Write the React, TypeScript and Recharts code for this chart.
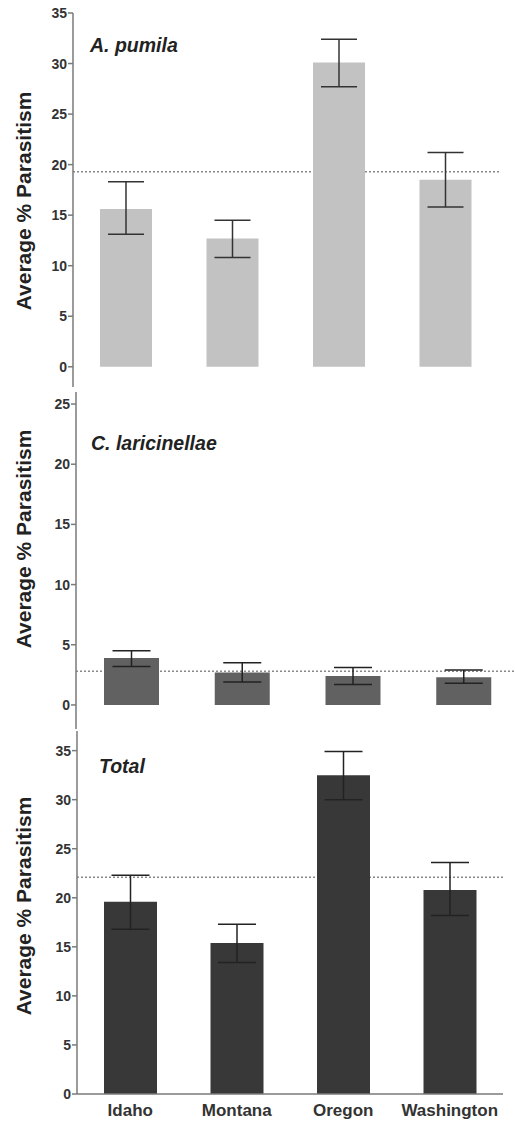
import { BarChart, Bar, XAxis, YAxis, ErrorBar, ReferenceLine } from 'recharts'

const states = ['Idaho', 'Montana', 'Oregon', 'Washington']

// A. pumila
const pumilaMean = [15.6, 12.7, 30.1, 18.5]
const pumilaLow = [13.1, 10.8, 27.7, 15.8]
const pumilaHigh = [18.3, 14.5, 32.4, 21.2]
const pumilaOverall = 19.3

// C. laricinellae
const laricMean = [3.9, 2.7, 2.4, 2.3]
const laricLow = [3.2, 1.9, 1.7, 1.8]
const laricHigh = [4.5, 3.5, 3.1, 2.9]
const laricOverall = 2.8

// Total
const totalMean = [19.6, 15.4, 32.5, 20.8]
const totalLow = [16.8, 13.4, 30.0, 18.2]
const totalHigh = [22.3, 17.3, 34.9, 23.6]
const totalOverall = 22.1

const pumilaTicks = [0, 5, 10, 15, 20, 25, 30, 35]
const laricTicks = [0, 5, 10, 15, 20, 25]
const totalTicks = [0, 5, 10, 15, 20, 25, 30, 35]

const buildRows = (mean: number[], low: number[], high: number[]) =>
  states.map((name, i) => ({
    name,
    value: mean[i],
    err: [mean[i] - low[i], high[i] - mean[i]],
  }))

const SANS = "'Liberation Sans', Arial, sans-serif"
const AXIS = '#7a7a7a'

const tickStyle = { fontFamily: SANS, fontSize: 14, fontWeight: 700, fill: '#333' }

function YLabel({ viewBox, dx = 0, dy = 0 }: any) {
  const cx = viewBox.x + viewBox.width / 2 + dx
  const cy = viewBox.y + viewBox.height / 2 + dy
  return (
    <text
      x={cx}
      y={cy}
      transform={`rotate(-90, ${cx}, ${cy})`}
      textAnchor="middle"
      dominantBaseline="central"
      fontFamily={SANS}
      fontWeight={700}
      fontSize={21}
      fill="#222"
    >
      Average % Parasitism
    </text>
  )
}

function Title({ x, y, text }: { x: number; y: number; text: string }) {
  return (
    <text x={x} y={y} fontFamily={SANS} fontStyle="italic" fontWeight={700} fontSize={19.5} fill="#222">
      {text}
    </text>
  )
}

export default function App() {
  const pumilaRows = buildRows(pumilaMean, pumilaLow, pumilaHigh)
  const laricRows = buildRows(laricMean, laricLow, laricHigh)
  const totalRows = buildRows(totalMean, totalLow, totalHigh)

  return (
    <div style={{ position: 'absolute', left: 0, top: 0, width: 515, height: 1122, overflow: 'hidden', background: '#fff' }}>
      {/* A. pumila */}
      <div style={{ position: 'absolute', left: 0, top: 0 }}>
        <BarChart width={515} height={392} data={pumilaRows} margin={{ top: 13, right: 16, bottom: 5, left: 0 }}>
          <XAxis dataKey="name" height={0} tick={false} tickLine={false} stroke={AXIS} strokeWidth={1.5} />
          <YAxis
            width={73}
            domain={[-2, 35]}
            ticks={pumilaTicks}
            tick={tickStyle}
            tickSize={5}
            tickMargin={1}
            stroke={AXIS}
            strokeWidth={1.5}
            label={<YLabel dx={-13.5} dy={1} />}
          />
          <ReferenceLine y={pumilaOverall} stroke="#888" strokeWidth={1.5} strokeDasharray="2 2" zIndex={-50} />
          <Bar dataKey="value" fill="#c2c2c2" barSize={52} isAnimationActive={false}>
            <ErrorBar dataKey="err" width={18} stroke="#333" strokeWidth={1.5} />
          </Bar>
          <Title x={90} y={52} text="A. pumila" />
        </BarChart>
      </div>

      {/* C. laricinellae */}
      <div style={{ position: 'absolute', left: 0, top: 380 }}>
        <BarChart width={520} height={355} data={laricRows} margin={{ top: 12, right: 1, bottom: 6, left: 0 }}>
          <XAxis dataKey="name" height={0} tick={false} tickLine={false} stroke={AXIS} strokeWidth={1.5} />
          <YAxis
            width={76}
            domain={[-2, 26]}
            ticks={laricTicks}
            tick={tickStyle}
            tickSize={5}
            tickMargin={1}
            stroke={AXIS}
            strokeWidth={1.5}
            label={<YLabel dx={-15} dy={-21.5} />}
          />
          <ReferenceLine y={laricOverall} stroke="#888" strokeWidth={1.5} strokeDasharray="2 2" zIndex={-50} />
          <Bar dataKey="value" fill="#616161" barSize={55} isAnimationActive={false}>
            <ErrorBar dataKey="err" width={19} stroke="#222" strokeWidth={1.5} />
          </Bar>
          <Title x={91} y={70} text="C. laricinellae" />
        </BarChart>
      </div>

      {/* Total */}
      <div style={{ position: 'absolute', left: 0, top: 720 }}>
        <BarChart width={515} height={402} data={totalRows} margin={{ top: 11, right: 12, bottom: 0, left: 0 }}>
          <XAxis
            dataKey="name"
            height={28}
            tickLine={false}
            tickMargin={4}
            tick={{ fontFamily: SANS, fontSize: 17, fontWeight: 700, fill: '#333' }}
            stroke={AXIS}
            strokeWidth={1.5}
          />
          <YAxis
            width={77}
            domain={[0, 37]}
            ticks={totalTicks}
            tick={tickStyle}
            tickSize={5}
            tickMargin={1}
            stroke={AXIS}
            strokeWidth={1.5}
            label={<YLabel dx={-15.5} dy={-6.5} />}
          />
          <ReferenceLine y={totalOverall} stroke="#888" strokeWidth={1.5} strokeDasharray="2 2" zIndex={-50} />
          <Bar dataKey="value" fill="#383838" barSize={53} isAnimationActive={false}>
            <ErrorBar dataKey="err" width={19} stroke="#222" strokeWidth={1.5} />
          </Bar>
          <Title x={99} y={53} text="Total" />
        </BarChart>
      </div>
    </div>
  )
}
